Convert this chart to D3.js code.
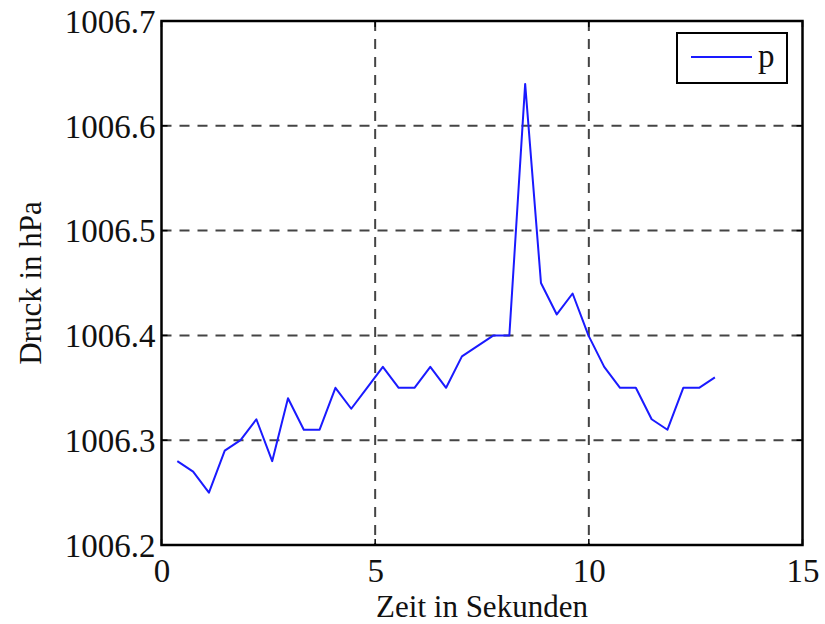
<!DOCTYPE html>
<html>
<head>
<meta charset="utf-8">
<script src="https://cdn.jsdelivr.net/npm/d3@7"></script>
<style>
  body { margin: 0; background: #fff; }
  svg text { font-family: "Liberation Serif", "Times New Roman", Times, "DejaVu Serif", serif !important; }
</style>
</head>
<body>
<svg id="chart" width="825" height="624"></svg>
<script>
// Zeit in Sekunden
var time = [0.37, 0.74, 1.11, 1.48, 1.85, 2.22, 2.59, 2.96, 3.33, 3.70,
            4.07, 4.44, 4.81, 5.18, 5.55, 5.92, 6.29, 6.66, 7.03, 7.40,
            7.77, 8.14, 8.51, 8.88, 9.25, 9.62, 9.99, 10.36, 10.73, 11.10,
            11.47, 11.84, 12.21, 12.58, 12.95];
// Druck in hPa
var pressure = [1006.28, 1006.27, 1006.25, 1006.29, 1006.30, 1006.32, 1006.28, 1006.34, 1006.31, 1006.31,
                1006.35, 1006.33, 1006.35, 1006.37, 1006.35, 1006.35, 1006.37, 1006.35, 1006.38, 1006.39,
                1006.40, 1006.40, 1006.64, 1006.45, 1006.42, 1006.44, 1006.40, 1006.37, 1006.35, 1006.35,
                1006.32, 1006.31, 1006.35, 1006.35, 1006.36];
var xTicks = [0, 5, 10, 15];
var yTicks = [1006.2, 1006.3, 1006.4, 1006.5, 1006.6, 1006.7];

var svg = d3.select("#chart");
var pL = 161.5, pR = 802.5, pT = 21, pB = 545;
var fs = 33;

var x = d3.scaleLinear().domain([0, 15]).range([pL, pR]);
var y = d3.scaleLinear().domain([1006.2, 1006.7]).range([pB, pT]);

// grid
var grid = svg.append("g")
    .attr("stroke", "#444")
    .attr("stroke-width", 2)
    .attr("stroke-dasharray", "10,8");
grid.selectAll(".gx").data(xTicks.slice(1, -1)).enter().append("line")
    .attr("x1", function(d) { return x(d); }).attr("x2", function(d) { return x(d); })
    .attr("y1", pT).attr("y2", pB);
grid.selectAll(".gy").data(yTicks.slice(1, -1)).enter().append("line")
    .attr("x1", pL).attr("x2", pR)
    .attr("y1", function(d) { return y(d); }).attr("y2", function(d) { return y(d); });

// data line
var line = d3.line()
    .x(function(d, i) { return x(time[i]); })
    .y(function(d) { return y(d); });
svg.append("path")
    .datum(pressure)
    .attr("fill", "none")
    .attr("stroke", "#1a1aff")
    .attr("stroke-width", 2)
    .attr("stroke-linejoin", "round")
    .attr("d", line);

// axes
var xAxis = svg.append("g")
    .attr("transform", "translate(0," + pB + ")")
    .call(d3.axisBottom(x).tickValues(xTicks).tickSize(0).tickPadding(0).tickFormat(d3.format("d")));
var yAxis = svg.append("g")
    .attr("transform", "translate(" + pL + ",0)")
    .call(d3.axisLeft(y).tickValues(yTicks).tickSize(0).tickPadding(6).tickFormat(d3.format(".1f")));
[xAxis, yAxis].forEach(function(a) {
  a.select(".domain").remove();
  a.attr("font-family", null).attr("font-size", null);
  a.selectAll("text").attr("font-size", fs).attr("fill", "#111");
});
xAxis.selectAll("text").attr("dy", null).attr("y", 37);
yAxis.selectAll("text").attr("dy", "0.34em");

// inward ticks
var tk = svg.append("g").attr("stroke", "#000").attr("stroke-width", 1.5);
xTicks.forEach(function(d) {
  tk.append("line").attr("x1", x(d)).attr("x2", x(d)).attr("y1", pB).attr("y2", pB - 6);
  tk.append("line").attr("x1", x(d)).attr("x2", x(d)).attr("y1", pT).attr("y2", pT + 6);
});
yTicks.forEach(function(d) {
  tk.append("line").attr("x1", pL).attr("x2", pL + 6).attr("y1", y(d)).attr("y2", y(d));
  tk.append("line").attr("x1", pR).attr("x2", pR - 6).attr("y1", y(d)).attr("y2", y(d));
});

// frame
svg.append("rect")
    .attr("x", pL).attr("y", pT)
    .attr("width", pR - pL).attr("height", pB - pT)
    .attr("fill", "none").attr("stroke", "#000").attr("stroke-width", 2.5);

// labels
svg.append("text")
    .attr("x", (pL + pR) / 2).attr("y", 617)
    .attr("text-anchor", "middle").attr("font-size", 31).attr("fill", "#111")
    .text("Zeit in Sekunden");
svg.append("text")
    .attr("transform", "translate(41," + ((pT + pB) / 2) + ") rotate(-90)")
    .attr("text-anchor", "middle").attr("font-size", 31).attr("fill", "#111")
    .text("Druck in hPa");

// legend
var lg = svg.append("g");
lg.append("rect")
    .attr("x", 677).attr("y", 33).attr("width", 110).attr("height", 50)
    .attr("fill", "#fff").attr("stroke", "#000").attr("stroke-width", 2);
lg.append("line")
    .attr("x1", 691).attr("x2", 752).attr("y1", 57).attr("y2", 57)
    .attr("stroke", "#1a1aff").attr("stroke-width", 2);
lg.append("text")
    .attr("x", 758).attr("y", 67).attr("font-size", fs).attr("fill", "#111")
    .text("p");
</script>
</body>
</html>
